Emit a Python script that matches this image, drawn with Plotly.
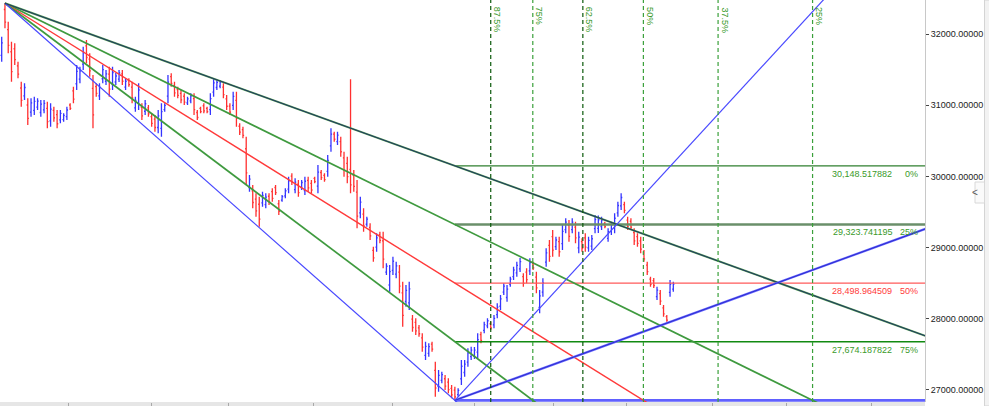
import plotly.graph_objects as go

# ---------------- data ----------------
open_ = [31702,32348,32066,31754,31796,31556,31244,31134,31005,30905,30928,30975,30899,30935,30957,30782,30928,30870,30794,30800,
         30841,31005,31204,31304,31369,31579,31837,31650,31239,31263,31134,31374,31339,31438,31298,31328,31370,31444,31257,31350,
         31256,30963,31028,30970,30917,30964,30841,30805,30688,30677,30940,31129,31404,31279,31221,31169,31128,31034,31064,31093,
         30899,30958,30994,30958,30940,31186,31251,31269,31257,31092,30988,30999,31069,30706,30658,30389,29844,29797,29680,29608,
         29627,29604,29721,29786,29844,29615,29667,29727,29821,30003,29815,29890,29844,29802,29943,29902,29973,29862,30055,30014,
         30072,30430,30594,30489,30489,30260,30183,30100,30014,29779,29486,29469,29327,29281,28958,29005,29181,29093,28654,28472,
         28677,28625,28653,28360,28243,28220,27991,27945,27868,27727,27481,27510,27639,27270,27047,27130,27153,27106,27018,26993,
         26930,27153,27241,27387,27464,27470,27529,27774,27833,27898,27927,27910,28056,28173,28372,28296,28483,28589,28642,28700,
         28590,28654,28672,28771,28583,28156,28373,28795,29029,29152,29012,29082,29053,29252,29311,29252,29287,28994,29082,29135,
         28994,29018,29264,29270,29293,29340,29128,29223,29270,29486,29586,29603,29386,29369,29211,29152,29093,28923,28753,28554,
         28535,28308,28350,28150,28027,28367,28413]
high = [31966,32436,32177,31895,31873,31614,31332,31310,31099,31099,31121,31099,31075,31075,31051,31029,30981,30934,30934,30888,
        30981,31029,31262,31567,31544,31825,31919,31732,31427,31310,31310,31567,31497,31544,31544,31455,31497,31497,31380,31380,
        31332,31121,31310,31029,31075,31005,30888,30864,30934,31029,31029,31427,31451,31332,31262,31216,31169,31121,31169,31169,
        30934,30981,31029,30981,31169,31380,31357,31357,31310,31145,31029,31192,31192,30747,30699,30559,30020,29879,29762,29714,
        29785,29762,29762,29833,29879,29668,29738,29833,29996,30044,29973,29949,29949,29996,29996,29949,29996,30160,30090,30044,
        30301,30677,30629,30629,30559,30348,30277,31366,30090,29949,29714,29551,29433,29340,29011,29199,29222,29222,28777,28753,
        28870,28800,28753,28519,28472,28519,28050,28004,27909,27792,27674,27652,27674,27393,27276,27252,27206,27159,27065,27041,
        27019,27417,27417,27581,27604,27600,27792,27815,27956,28004,27956,28050,28215,28331,28496,28472,28589,28730,28800,28852,
        28637,28707,28848,28800,28659,28402,28566,28988,29105,29246,29152,29152,29316,29410,29387,29410,29363,29222,29129,29199,
        29152,29176,29457,29450,29433,29363,29270,29363,29481,29644,29762,29644,29433,29410,29270,29199,29152,28964,28800,28589,
        28570,28448,28403,28191,28050,28542,28519]
low = [31614,32084,31732,31332,31567,31380,30981,31075,30723,30840,30864,30934,30840,30888,30677,30699,30770,30677,30747,30770,
       30794,30934,31029,31216,31310,31497,31591,31403,30677,31121,31075,31310,31286,31121,31216,31286,31328,31286,31216,31262,
       31029,30910,30934,30794,30864,30840,30699,30629,30606,30559,30910,31029,31262,31121,31099,31029,31005,31005,31029,30864,
       30794,30888,30888,30888,30864,31121,31216,31240,31099,30934,30864,30934,30699,30583,30536,29879,29785,29551,29433,29292,
       29574,29551,29598,29644,29738,29457,29644,29692,29762,29879,29762,29714,29809,29738,29785,29762,29903,29762,29949,29925,
       29996,30348,30488,30442,30277,29996,29903,29762,29785,29270,29410,29222,29292,29105,28800,28941,29059,28707,28613,28378,
       28613,28566,28355,27885,28167,28120,27815,27769,27745,27534,27417,27463,27534,26900,26971,27089,26995,26948,26878,26849.411136,
       26900,27065,27182,27322,27417,27430,27441,27652,27792,27863,27839,27863,28003,28120,28331,28237,28448,28542,28589,28655,
       28448,28496,28613,28683,28355,28074,28308,28730,28800,28870,28965,28870,28965,29199,29081,29199,29059,28918,28941,28941,
       28941,28965,29200,29205,29246,29270,29081,29176,29200,29433,29527,29481,29246,29246,29035,29011,28918,28800,28613,28448,
       28430,28261,28191,28026,27956,28308,28378]
close = [31878,32172,31843,31473,31644,31438,31069,31251,30817,31034,31057,31058,31016,31028,30771,30946,30823,30741,30887,30858,
         30934,30958,31087,31479,31485,31743,31673,31485,30865,31168,31251,31503,31444,31227,31462,31413,31455,31339,31339,31292,
         31105,31068,31216,30853,31022,30881,30746,30688,30852,30911,30999,31327,31309,31174,31140,31076,31046,31092,31134,30940,
         30829,30911,30923,30911,31093,31315,31322,31328,31152,30987,30905,31127,30822,30624,30577,30049,29961,29633,29515,29398,
         29732,29709,29639,29691,29773,29510,29715,29798,29937,29920,29920,29773,29914,29932,29838,29809,29926,30060,29984,29955,
         30225,30595,30523,30582,30347,30084,29997,29880,29861,29440,29638,29304,29398,29164,28853,29135,29100,28836,28736,28659,
         28806,28741,28455,28044,28396,28419,27874,27828,27786,27599,27610,27605,27569,27023,27200,27211,27048,27001,26925,26897,
         26989,27329,27358,27516,27557,27555,27704,27693,27915,27969,27868,28003,28162,28278,28455,28413,28554,28683,28747,28800,
         28495,28549,28789,28712,28431,28320,28501,28923,28876,28964,29105,28940,29228,29357,29157,29357,29135,29146,28988,29005,
         29099,29123,29393,29390,29386,29293,29223,29316,29411,29591,29703,29522,29293,29287,29094,29058,28977,28841,28660,28483,
         28465,28401,28244,28067,27979,28483,28484]
bar_idx = list(range(len(close)))

# swing anchors of the drawing tools (bar index, price)
top_bar, top_price = 1, 32436
bottom_bar, bottom_price = 139, 26849.411136

# horizontal retracement levels
level_pcts = ["0%", "25%", "50%", "75%", "100%"]
level_vals = [30148.517882, 29323.741195, 28498.964509, 27674.187822, 26849.411136]
level_text = ["30,148.517882", "29,323.741195", "28,498.964509", "27,674.187822", ""]

# time-zone percentages
time_pcts = [0.875, 0.75, 0.625, 0.5, 0.375, 0.25]
time_labels = ["87.5%", "75%", "62.5%", "50%", "37.5%", "25%"]

# rays from the bottom pivot (bar index, price they pass through)
ray_steep = (252, 32482)
ray_shallow = (283, 29256)

y_ticks = [27000, 28000, 29000, 30000, 31000, 32000]
x_ticks = [20.6, 45.8, 69.7, 95.5, 120.0, 144.9, 169.1, 191.5, 217.9, 240.6, 266.7]

X_MIN, X_MAX = -0.52, 283.2
Y_MIN, Y_MAX = 26826, 32482

# ---------------- figure ----------------
fig = go.Figure()

fig.add_trace(go.Ohlc(
    x=bar_idx, open=open_, high=high, low=low, close=close,
    increasing=dict(line=dict(color="#3535ff", width=1.3)),
    decreasing=dict(line=dict(color="#ff3030", width=1.3)),
    tickwidth=0.35, hoverinfo="skip", showlegend=False))

def ray(x0, y0, x1, y1, color, width, xe=300):
    slope = (y1 - y0) / (x1 - x0)
    fig.add_trace(go.Scatter(x=[x0, xe], y=[y0, y0 + slope * (xe - x0)], mode="lines",
                             line=dict(color=color, width=width), hoverinfo="skip",
                             showlegend=False))

# horizontal levels
h_colors = ["#2f7f2f", "#6a8f6a", "#ff5a5a", "#118a11", "#6060ff"]
h_widths = [1.3, 2.6, 1.4, 1.4, 2.8]
for v, c, w in zip(level_vals, h_colors, h_widths):
    fig.add_trace(go.Scatter(x=[bottom_bar, 300], y=[v, v], mode="lines",
                             line=dict(color=c, width=w), hoverinfo="skip", showlegend=False))

# fan from the top pivot through each level at the bottom bar
fan_colors = ["#4f9a4f", "#3f9a3f", "#ff3a3a", "#3f9a3f", "#4848ff"]
fan_widths = [2.0, 1.7, 1.4, 1.7, 1.2]
for v, c, w in zip(level_vals, fan_colors, fan_widths):
    ray(top_bar, top_price, bottom_bar, v, c, w)
ray(top_bar, top_price, bottom_bar, level_vals[0], "#1c2a66", 0.9)

# rays from the bottom pivot
ray(bottom_bar, bottom_price, ray_steep[0], ray_steep[1], "#4a4aff", 1.2)
ray(bottom_bar, bottom_price, ray_shallow[0], ray_shallow[1], "#6464ff", 2.2)
ray(bottom_bar, bottom_price, ray_shallow[0], ray_shallow[1], "#2020c0", 0.8)

shapes = []
annotations = []

# vertical time lines: where each fan ray reaches the bottom price
rng = level_vals[0] - level_vals[-1]
for p, lab in zip(time_pcts, time_labels):
    lvl = level_vals[0] - p * rng
    xt = top_bar + (bottom_bar - top_bar) * (top_price - bottom_price) / (top_price - lvl)
    dark = p in (0.875, 0.625)
    col = "#0b5a0b" if dark else "#3aa03a"
    shapes.append(dict(type="line", xref="x", yref="paper", x0=xt, x1=xt, y0=0, y1=1,
                       line=dict(color=col, width=1.2, dash="4px,3px"), layer="above"))
    annotations.append(dict(x=xt, y=1 - 5 / 402, xref="x", yref="paper", text=lab,
                            textangle=90, showarrow=False, xanchor="center", yanchor="top",
                            xshift=6.5, font=dict(family="Liberation Sans", size=9, color="#3a9a2a")))

# level labels
lab_colors = ["#3a9a2a", "#3a9a2a", "#ff3a3a", "#3a9a2a"]
for v, t, pc, c in zip(level_vals[:4], level_text[:4], level_pcts[:4], lab_colors):
    annotations.append(dict(x=894 / 925, y=v, xref="paper", yref="y", text=t, showarrow=False,
                            xanchor="right", yanchor="top", yshift=-1,
                            font=dict(family="Liberation Sans", size=9, color=c)))
    annotations.append(dict(x=920 / 925, y=v, xref="paper", yref="y", text=pc, showarrow=False,
                            xanchor="right", yanchor="top", yshift=-1,
                            font=dict(family="Liberation Sans", size=9, color=c)))

# bottom time strip and right side panel (UI chrome)
shapes.append(dict(type="rect", xref="paper", yref="paper", x0=0, x1=1, y0=-4 / 402, y1=0,
                   fillcolor="#e6e6e6", line=dict(width=0), layer="below"))
shapes.append(dict(type="rect", xref="paper", yref="paper", x0=984.5 / 925, x1=990 / 925,
                   y0=-4 / 402, y1=1, fillcolor="#f2f2f2", line=dict(color="#d4d4d4", width=1),
                   layer="above"))
shapes.append(dict(type="rect", xref="paper", yref="paper", x0=975 / 925, x1=984.5 / 925,
                   y0=1 - 203 / 402, y1=1 - 182 / 402, fillcolor="#fafafa",
                   line=dict(color="#d8d8d8", width=1), layer="above"))
annotations.append(dict(x=979.5 / 925, y=1 - 192 / 402, xref="paper", yref="paper", text="<",
                        showarrow=False, font=dict(family="Liberation Sans", size=10, color="#555")))

fig.update_layout(
    width=989, height=406,
    margin=dict(l=0, r=64, t=0, b=4, pad=0),
    paper_bgcolor="white", plot_bgcolor="white",
    showlegend=False,
    shapes=shapes, annotations=annotations,
    xaxis=dict(range=[X_MIN, X_MAX], showgrid=False, zeroline=False, showticklabels=False,
               ticks="outside", ticklen=4, tickcolor="#a8a8a8", tickvals=x_ticks,
               showline=False, rangeslider=dict(visible=False), fixedrange=True),
    yaxis=dict(range=[Y_MIN, Y_MAX], side="right", showgrid=False, zeroline=False,
               tickvals=y_ticks, ticktext=[f"{v}.00000" for v in y_ticks],
               ticks="outside", ticklen=3, tickcolor="#444", showline=True, linecolor="#c8c8c8",
               tickfont=dict(family="Liberation Sans", size=9, color="#222"), fixedrange=True),
)

fig.write_html("out.html", config={"displayModeBar": False},
               post_script="document.body.style.margin='0px';document.body.style.overflow='hidden';")
